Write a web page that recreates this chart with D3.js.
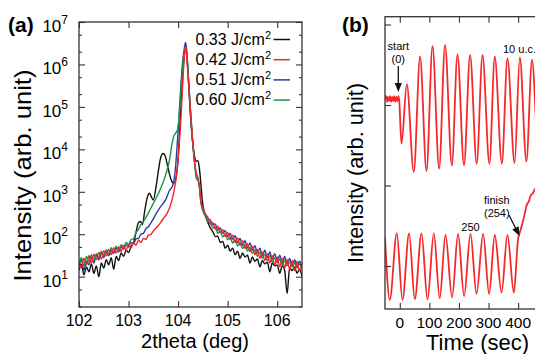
<!DOCTYPE html>
<html>
<head>
<meta charset="utf-8">
<script src="https://cdn.jsdelivr.net/npm/d3@7"></script>
<style>
body { margin: 0; background: #fff; }
svg { display: block; font-family: "Liberation Sans", Arial, Helvetica, sans-serif; }
</style>
</head>
<body>
<script>
// ---- panel (a): XRD scans, [2theta (deg), intensity] ----
var thetaTicks = [102, 103, 104, 105, 106];
var decadeTicks = [1, 2, 3, 4, 5, 6, 7];
var fluences = ["0.33", "0.42", "0.51", "0.60"];

var xrd033 = [
  [102.00,14],[102.05,19],[102.10,11],[102.15,17],[102.20,13],[102.25,20],[102.30,12],[102.35,18],
  [102.40,10],[102.45,21],[102.50,16],[102.55,25],[102.60,19],[102.65,28],[102.70,15],[102.75,30],
  [102.80,24],[102.85,36],[102.90,30],[102.95,42],[103.00,37],[103.05,52],[103.10,62],[103.15,110],
  [103.20,190],[103.24,200],[103.28,170],[103.33,380],[103.38,750],[103.42,920],[103.46,760],[103.50,640],
  [103.55,1200],[103.60,3000],[103.65,6500],[103.70,8000],[103.74,7000],[103.78,4500],[103.83,2500],
  [103.88,1700],[103.92,1600],[103.96,2200],[104.00,6000],[104.04,40000],[104.08,3e5],[104.12,1.5e6],
  [104.15,2.4e6],[104.18,1.4e6],[104.21,4e5],[104.25,6e4],[104.29,1.6e4],[104.33,7000],[104.37,5200],
  [104.40,5400],[104.43,3500],[104.46,1500],[104.49,600],[104.53,330],[104.57,230],
  [104.60,190],[104.65,140],[104.70,115],[104.75,88],[104.80,90],[104.85,64],[104.90,68],[104.95,47],
  [105.00,55],[105.05,40],[105.10,47],[105.15,33],[105.20,40],[105.25,27],[105.30,36],[105.35,29],
  [105.40,32],[105.45,21],[105.50,29],[105.55,23],[105.60,26],[105.65,17],[105.70,24],[105.75,20],
  [105.80,22],[105.85,13],[105.90,21],[105.95,18],[106.00,19],[106.05,12],[106.10,18],[106.15,14],
  [106.20,4],[106.25,16],[106.30,14],[106.35,17],[106.40,12],[106.45,15],[106.50,10]
];
var xrd042 = [
  [102.00,24],[102.05,16],[102.10,27],[102.15,19],[102.20,31],[102.25,21],[102.30,34],[102.35,25],
  [102.40,37],[102.45,26],[102.50,41],[102.55,31],[102.60,44],[102.65,33],[102.70,48],[102.75,36],
  [102.80,50],[102.85,39],[102.90,55],[102.95,42],[103.00,57],[103.05,47],[103.10,64],[103.15,55],
  [103.20,72],[103.25,64],[103.30,80],[103.35,76],[103.40,95],[103.45,99],[103.50,118],[103.58,150],
  [103.65,190],[103.72,250],[103.78,315],[103.85,500],[103.91,930],[103.95,1700],[103.98,3200],
  [104.02,12000],[104.06,60000],[104.10,5e5],[104.13,1.8e6],[104.15,2.7e6],[104.17,1.8e6],[104.20,6e5],
  [104.24,1.2e5],[104.28,25000],[104.32,7000],[104.36,2800],[104.40,2000],[104.43,1300],[104.46,600],
  [104.50,420],[104.55,300],
  [104.60,250],[104.65,175],[104.70,190],[104.75,130],[104.80,155],[104.85,108],[104.90,128],[104.95,88],
  [105.00,110],[105.05,75],[105.10,95],[105.15,64],[105.20,82],[105.25,55],[105.30,70],[105.35,46],
  [105.40,60],[105.45,39],[105.50,52],[105.55,33],[105.60,44],[105.65,27],[105.70,38],[105.75,24],
  [105.80,35],[105.85,21],[105.90,31],[105.95,19],[106.00,29],[106.05,17],[106.10,27],[106.15,16],
  [106.20,25],[106.25,15],[106.30,24],[106.35,14],[106.40,23],[106.45,14],[106.50,20]
];
var xrd051 = [
  [102.00,17],[102.05,25],[102.10,14],[102.15,23],[102.20,19],[102.25,29],[102.30,21],[102.35,32],
  [102.40,25],[102.45,36],[102.50,28],[102.55,39],[102.60,31],[102.65,42],[102.70,35],[102.75,47],
  [102.80,38],[102.85,51],[102.90,44],[102.95,57],[103.00,50],[103.05,64],[103.10,60],[103.15,78],
  [103.20,80],[103.25,100],[103.30,105],[103.35,135],[103.40,150],[103.45,185],[103.50,230],[103.56,310],
  [103.62,400],[103.68,500],[103.74,620],[103.79,850],[103.83,1100],[103.87,1250],[103.91,1700],
  [103.95,4000],[103.98,12000],[104.01,40000],[104.05,2.5e5],[104.09,1.1e6],[104.13,2.6e6],[104.15,3.3e6],
  [104.17,2.4e6],[104.20,7e5],[104.24,1.2e5],[104.28,24000],[104.32,7000],[104.36,2900],[104.40,2100],
  [104.43,1300],[104.46,560],[104.50,400],[104.55,300],
  [104.60,235],[104.65,215],[104.70,165],[104.75,175],[104.80,125],[104.85,140],[104.90,105],[104.95,122],
  [105.00,88],[105.05,105],[105.10,76],[105.15,92],[105.20,64],[105.25,80],[105.30,55],[105.35,70],
  [105.40,47],[105.45,62],[105.50,42],[105.55,54],[105.60,36],[105.65,47],[105.70,31],[105.75,42],
  [105.80,28],[105.85,38],[105.90,25],[105.95,35],[106.00,23],[106.05,32],[106.10,21],[106.15,30],
  [106.20,20],[106.25,27],[106.30,18],[106.35,25],[106.40,17],[106.45,23],[106.50,17]
];
var xrd060 = [
  [102.00,20],[102.05,28],[102.10,18],[102.15,30],[102.20,22],[102.25,33],[102.30,24],[102.35,35],
  [102.40,28],[102.45,40],[102.50,31],[102.55,43],[102.60,35],[102.65,48],[102.70,38],[102.75,52],
  [102.80,43],[102.85,57],[102.90,48],[102.95,64],[103.00,57],[103.05,75],[103.10,78],[103.15,110],
  [103.20,130],[103.25,170],[103.30,200],[103.36,260],[103.42,350],[103.48,480],[103.54,650],[103.60,900],
  [103.66,1300],[103.72,2000],[103.78,3300],[103.83,6000],[103.87,12000],[103.91,20000],[103.95,24000],
  [103.99,30000],[104.03,80000],[104.07,4e5],[104.11,1.5e6],[104.15,2.6e6],[104.18,1.5e6],[104.21,4e5],
  [104.25,8e4],[104.29,1.8e4],[104.33,5000],[104.37,2000],[104.41,1800],[104.44,1100],[104.47,480],
  [104.51,330],[104.56,250],
  [104.60,200],[104.65,185],[104.70,140],[104.75,150],[104.80,105],[104.85,118],[104.90,86],[104.95,100],
  [105.00,74],[105.05,86],[105.10,62],[105.15,74],[105.20,53],[105.25,64],[105.30,46],[105.35,56],
  [105.40,40],[105.45,49],[105.50,35],[105.55,43],[105.60,30],[105.65,38],[105.70,27],[105.75,34],
  [105.80,24],[105.85,31],[105.90,22],[105.95,28],[106.00,21],[106.05,26],[106.10,19],[106.15,24],
  [106.20,18],[106.25,22],[106.30,17],[106.35,21],[106.40,16],[106.45,20],[106.50,15]
];

// ---- panel (b): RHEED intensity, [time (sec), arb. unit] ----
var timeTicks = [0, 100, 200, 300, 400];
var levelTicks = [0, 1, 2, 3];
var rheedStart = [
  [-50,2.07],[-46,2.11],[-43,2.04],[-40,2.10],[-36,2.05],[-33,2.11],[-29,2.04],[-26,2.10],[-22,2.05],
  [-19,2.11],[-15,2.04],[-12,2.10],[-8,2.05],[-5,2.11],[-2,2.06],
  [5.7,1.52],[23.7,2.26],[47.3,1.17],[68.6,2.60],[90.3,1.18],[110.6,2.73],[133,1.21],[153,2.745],
  [176,1.25],[195,2.63],[217,1.25],[237.7,2.62],[260,1.27],[279.6,2.62],[303,1.27],[321,2.60],
  [345,1.27],[364,2.58],[388,1.28],[405.7,2.59],[428,1.30],[447,2.56],[470,1.30],[490,2.55],[512,1.31]
];
var rheedFinish = [
  [-50,0.36],[-33.8,-0.42],[-10.1,0.406],[9.1,-0.42],[31.4,0.406],[50.7,-0.414],[73.4,0.406],
  [93.7,-0.414],[115,0.406],[135,-0.40],[154.5,0.385],[176.8,-0.39],[197,0.398],[217.4,-0.373],
  [239,0.398],[259.3,-0.348],[281.7,0.398],[302,-0.348],[321,0.385],[344,-0.33],[364,0.385],
  [385.5,-0.33],[400,0.34],[406,0.42],[411.5,0.49],[418,0.58],[423,0.66],[429.4,0.76],[436,0.80],
  [443,0.88],[449,0.90],[456,0.95],[470,1.0]
];

var seriesA = [xrd033, xrd051, xrd060, xrd042];
var colorsA = ["#111111", "#2b3c9e", "#17964a", "#f5252a"];
var legendColors = ["#111111", "#f5252a", "#2b3c9e", "#17964a"];

var svg = d3.select("body").append("svg")
    .attr("width", 535)
    .attr("height", 354);

var defs = svg.append("defs");

// ===== panel (a) =====
var xa = d3.scaleLinear().domain([102, 106.5]).range([79, 302]),
    ya = d3.scaleLog().domain([1.93, 1e7]).range([307, 22]);

defs.append("clipPath").attr("id", "clipA")
  .append("rect").attr("x", 79).attr("y", 22).attr("width", 223).attr("height", 285);

var gA = svg.append("g");

var lineA = d3.line()
    .x(function(d) { return xa(d[0]); })
    .y(function(d) { return ya(d[1]); })
    .curve(d3.curveMonotoneX);

gA.append("g").attr("clip-path", "url(#clipA)")
  .selectAll("path").data(seriesA).enter().append("path")
    .attr("d", lineA)
    .attr("fill", "none")
    .attr("stroke", function(d, i) { return colorsA[i]; })
    .attr("stroke-width", 1.4)
    .attr("stroke-linejoin", "round");

var minorA = [];
decadeTicks.concat([0]).forEach(function(e) {
    [2, 5].forEach(function(m) {
        var v = m * Math.pow(10, e);
        if (v > 1.93 && v < 1e7) minorA.push(v);
    });
});
var majorA = decadeTicks.map(function(e) { return Math.pow(10, e); });

function drawTicks(g, axis) { g.call(axis); g.select(".domain").remove(); g.selectAll("line").attr("stroke", "#333").attr("stroke-width", 1.1); }

gA.append("g").attr("transform", "translate(0,307)")
  .call(drawTicks, d3.axisBottom(xa).tickValues(thetaTicks).tickSize(-6).tickFormat(""));
gA.append("g").attr("transform", "translate(0,22)")
  .call(drawTicks, d3.axisTop(xa).tickValues(thetaTicks).tickSize(-6).tickFormat(""));
gA.append("g").attr("transform", "translate(79,0)")
  .call(drawTicks, d3.axisLeft(ya).tickValues(majorA).tickSize(-6).tickFormat(""));
gA.append("g").attr("transform", "translate(79,0)")
  .call(drawTicks, d3.axisLeft(ya).tickValues(minorA).tickSize(-3).tickFormat(""));
gA.append("g").attr("transform", "translate(302,0)")
  .call(drawTicks, d3.axisRight(ya).tickValues(majorA).tickSize(-6).tickFormat(""));
gA.append("g").attr("transform", "translate(302,0)")
  .call(drawTicks, d3.axisRight(ya).tickValues(minorA).tickSize(-3).tickFormat(""));

gA.append("rect").attr("x", 79).attr("y", 22).attr("width", 223).attr("height", 285)
  .attr("fill", "none").attr("stroke", "#333").attr("stroke-width", 1.3);

gA.selectAll(".xlab").data(thetaTicks).enter().append("text")
    .attr("x", function(d) { return xa(d); })
    .attr("y", 326)
    .attr("text-anchor", "middle")
    .attr("font-size", 16)
    .text(function(d) { return d; });

var ylabs = gA.selectAll(".ylab").data(decadeTicks).enter().append("text")
    .attr("x", 68)
    .attr("y", function(d) { return ya(Math.pow(10, d)) + 10; })
    .attr("text-anchor", "end")
    .attr("font-size", 17);
ylabs.append("tspan").text("10");
ylabs.append("tspan").attr("dy", -8).attr("font-size", 12).text(function(d) { return d; });

gA.append("text")
    .attr("transform", "translate(31,175.5) rotate(-90)")
    .attr("text-anchor", "middle")
    .attr("font-size", 24)
    .attr("textLength", 212)
    .attr("lengthAdjust", "spacingAndGlyphs")
    .text("Intensity (arb. unit)");

gA.append("text")
    .attr("x", 195).attr("y", 348)
    .attr("text-anchor", "middle")
    .attr("font-size", 20)
    .text("2theta (deg)");

gA.append("text")
    .attr("x", 8).attr("y", 32)
    .attr("font-size", 21).attr("font-weight", "bold")
    .text("(a)");

// legend
var leg = gA.selectAll(".leg").data(fluences).enter().append("g")
    .attr("transform", function(d, i) { return "translate(0," + (44.5 + 20.2 * i) + ")"; });
var legText = leg.append("text")
    .attr("x", 271).attr("text-anchor", "end")
    .attr("font-size", 16);
legText.append("tspan").text(function(d) { return d + " J/cm"; });
legText.append("tspan").attr("dy", -6).attr("font-size", 11).text("2");
leg.append("line")
    .attr("x1", 273.5).attr("x2", 290).attr("y1", -5).attr("y2", -5)
    .attr("stroke", function(d, i) { return legendColors[i]; })
    .attr("stroke-width", 1.5);

// ===== panel (b) =====
var xb = d3.scaleLinear().domain([-50, 500]).range([385, 547.7]),
    yb = d3.scaleLinear().domain([-0.534, 3.097]).range([309, 16.7]);

defs.append("clipPath").attr("id", "clipB")
  .append("rect").attr("x", 385).attr("y", 16.7).attr("width", 162.7).attr("height", 292.3);

var gB = svg.append("g");

var lineB = d3.line()
    .x(function(d) { return xb(d[0]); })
    .y(function(d) { return yb(d[1]); })
    .curve(d3.curveMonotoneX);

gB.append("g").attr("clip-path", "url(#clipB)")
  .selectAll("path").data([rheedStart, rheedFinish]).enter().append("path")
    .attr("d", lineB)
    .attr("fill", "none")
    .attr("stroke", "#f5282a")
    .attr("stroke-width", 1.8)
    .attr("stroke-linejoin", "round");

gB.append("g").attr("transform", "translate(0,309)")
  .call(drawTicks, d3.axisBottom(xb).tickValues(timeTicks).tickSize(-6).tickFormat(""));
gB.append("g").attr("transform", "translate(0,16.7)")
  .call(drawTicks, d3.axisTop(xb).tickValues(timeTicks).tickSize(-6).tickFormat(""));
gB.append("g").attr("transform", "translate(385,0)")
  .call(drawTicks, d3.axisLeft(yb).tickValues(levelTicks).tickSize(-6).tickFormat(""));

gB.append("rect").attr("x", 385).attr("y", 16.7).attr("width", 162.7).attr("height", 292.3)
  .attr("fill", "none").attr("stroke", "#333").attr("stroke-width", 1.3);

gB.selectAll(".tlab").data(timeTicks).enter().append("text")
    .attr("x", function(d) { return xb(d); })
    .attr("y", 328)
    .attr("text-anchor", "middle")
    .attr("font-size", 15.5)
    .text(function(d) { return d; });

gB.append("text")
    .attr("transform", "translate(363,173) rotate(-90)")
    .attr("text-anchor", "middle")
    .attr("font-size", 21.5)
    .attr("textLength", 180)
    .attr("lengthAdjust", "spacingAndGlyphs")
    .text("Intensity (arb. unit)");

gB.append("text")
    .attr("x", 477.5).attr("y", 350)
    .attr("text-anchor", "middle")
    .attr("font-size", 22)
    .text("Time (sec)");

gB.append("text")
    .attr("x", 342).attr("y", 32)
    .attr("font-size", 21).attr("font-weight", "bold")
    .text("(b)");

function note(x, y, s) {
    gB.append("text").attr("x", x).attr("y", y)
      .attr("text-anchor", "middle").attr("font-size", 11).text(s);
}
note(xb(-5), 50, "start");
note(xb(-5), 63, "(0)");
note(xb(239), 231, "250");
note(xb(328), 204, "finish");
note(xb(328), 216.5, "(254)");
gB.append("text").attr("x", 503).attr("y", 53).attr("font-size", 11).text("10 u.c.");

function arrow(x1, y1, x2, y2) {
    var a = Math.atan2(y2 - y1, x2 - x1), L = 9, w = 3.6;
    var bx = x2 - L * Math.cos(a), by = y2 - L * Math.sin(a);
    gB.append("line").attr("x1", x1).attr("y1", y1).attr("x2", bx).attr("y2", by)
      .attr("stroke", "#111").attr("stroke-width", 1.3);
    gB.append("path")
      .attr("d", "M" + x2 + "," + y2 +
                 "L" + (bx + w * Math.sin(a)) + "," + (by - w * Math.cos(a)) +
                 "L" + (bx - w * Math.sin(a)) + "," + (by + w * Math.cos(a)) + "Z")
      .attr("fill", "#111");
}
arrow(xb(-5), 66, xb(-5), 92);
arrow(509, 215, 519.5, 236);
</script>
</body>
</html>
